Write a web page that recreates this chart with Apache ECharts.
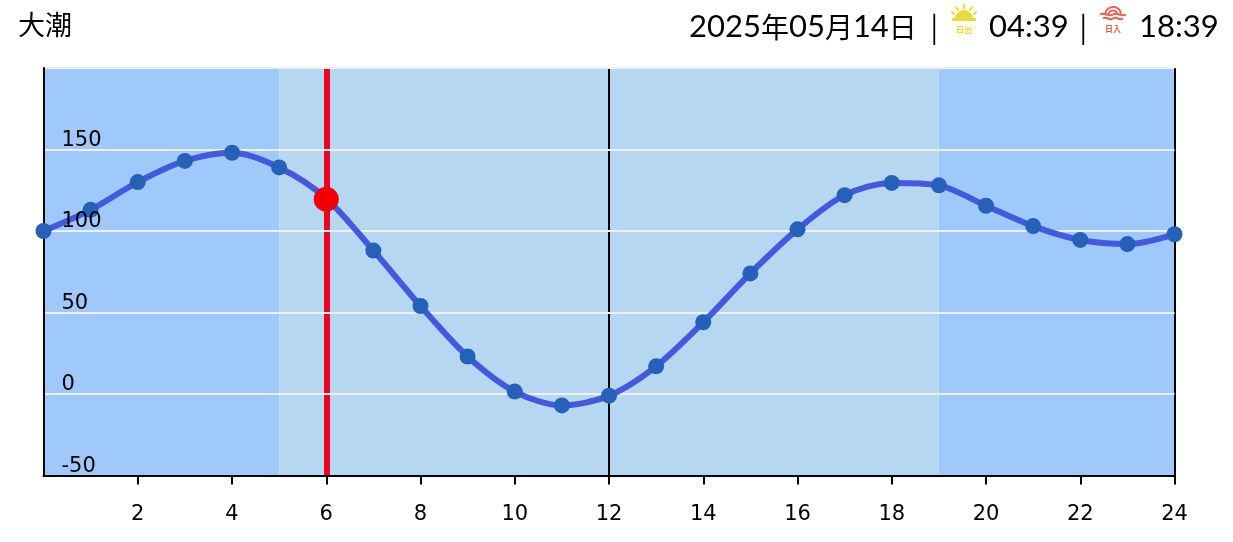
<!DOCTYPE html>
<html><head><meta charset="utf-8">
<style>html,body{margin:0;padding:0;background:#fff}#c{width:1233px;height:542px}</style>
<script src="https://cdn.jsdelivr.net/npm/echarts@6/dist/echarts.min.js"></script>
</head><body><div id="c"></div>
<script>
const hours=[0,1,2,3,4,5,6,7,8,9,10,11,12,13,14,15,16,17,18,19,20,21,22,23,24];
const tide=[100,113,130,143,148,139,120,88,54,23,1.5,-7,-1,17,44,74,101,122,129.5,128,115.5,103,94.5,92,98];
const xTicks=[2,4,6,8,10,12,14,16,18,20,22,24];
const nightRanges=[[0,5],[19,24]];
const dayRange=[5,19];
const currentHour=6;
const currentTide=119.5;
const blackLines=[12,24];
const titleText='大潮';
const dateText='2025年05月14日';
const sunriseText='04:39';
const sunsetText='18:39';
const hdr={fontFamily:'Lato,"Noto Sans CJK JP",sans-serif',fontSize:31,fill:'#000'};
function txt(x,y,t,o){return {type:'text',x:x,y:y,style:Object.assign({},hdr,{text:t,verticalAlign:'middle'},o||{})};}
const chart=echarts.init(document.getElementById('c'),null,{renderer:'canvas'});
const Y='#ecd93c',R='#e8644f';
const ray=(a,b,c,d)=>({type:'line',shape:{x1:a,y1:b,x2:c,y2:d},style:{stroke:Y,lineWidth:2,lineCap:'round'}});
const wave=(x1,x2,y)=>{const m=(x1+x2)/2;return [
 {type:'bezierCurve',shape:{x1:x1,y1:y,x2:m,y2:y,cpx1:x1+(m-x1)*.33,cpy1:y-3,cpx2:x1+(m-x1)*.66,cpy2:y+3},style:{stroke:R,lineWidth:2,fill:null}},
 {type:'bezierCurve',shape:{x1:m,y1:y,x2:x2,y2:y,cpx1:m+(x2-m)*.33,cpy1:y-3,cpx2:m+(x2-m)*.66,cpy2:y+3},style:{stroke:R,lineWidth:2,fill:null}}];};
const sun={type:'group',x:964,y:0,children:[
 {type:'sector',shape:{cx:0,cy:19,r:9,r0:0,startAngle:Math.PI,endAngle:2*Math.PI},style:{fill:Y}},
 {type:'line',shape:{x1:-12,y1:19.5,x2:12,y2:19.5},style:{stroke:Y,lineWidth:3}},
 ray(0,5,0,8),ray(-8,7,-6,10),ray(8,7,6,10),ray(-12,12,-10,14),ray(12,12,10,14),
 {type:'text',x:0,y:30,style:{text:'日出',fontSize:8,fontFamily:'"Noto Sans CJK JP"',fontWeight:'bold',fill:Y,align:'center',verticalAlign:'middle'}}
]};
const set={type:'group',x:1113,y:0,children:[
 {type:'arc',shape:{cx:0,cy:15,r:8,startAngle:Math.PI*1.05,endAngle:Math.PI*1.95},style:{stroke:R,lineWidth:2,fill:null}},
 {type:'arc',shape:{cx:0,cy:15,r:4.5,startAngle:Math.PI,endAngle:2*Math.PI},style:{stroke:R,lineWidth:2,fill:null}},
 ...wave(-13,13,14.5),...wave(-10,10,18.5),
 {type:'text',x:0,y:29,style:{text:'日入',fontSize:8,fontFamily:'"Noto Sans CJK JP"',fontWeight:'bold',fill:R,align:'center',verticalAlign:'middle'}}
]};
const richDate=dateText.replace(/(\d+)/g,'{d|$1}').replace(/([年月日])/g,'{c|$1}');
chart.setOption({
 animation:false,
 backgroundColor:'#fff',
 grid:{left:43.5,right:58.5,top:68,bottom:66.5,show:false},
 graphic:[
  txt(18,25,titleText,{fontSize:27,fontFamily:'"Noto Sans CJK JP"'}),
  txt(689,27,richDate,{rich:{d:{fontFamily:'Lato',fontSize:31,fill:'#000'},c:{fontFamily:'"Noto Sans CJK JP"',fontSize:28,fill:'#000'}}}),
  txt(930.5,26,'|',{fontSize:28,fontFamily:'"Noto Sans CJK JP"'}),
  sun,
  txt(989,27,sunriseText),
  txt(1079.5,26,'|',{fontSize:28,fontFamily:'"Noto Sans CJK JP"'}),
  set,
  txt(1139,27,sunsetText)
 ],
 xAxis:{type:'value',min:0,max:24,interval:2,
  axisLine:{show:true,onZero:false,lineStyle:{color:'#000',width:2}},
  axisTick:{show:true,length:9,customValues:xTicks,lineStyle:{color:'#000',width:2}},
  axisLabel:{color:'#000',fontFamily:'DejaVu Sans',fontSize:21,margin:29,showMinLabel:false},
  splitLine:{show:false}},
 yAxis:[{type:'value',min:-50,max:200,interval:50,
  axisLine:{show:true,onZero:false,lineStyle:{color:'#000',width:2}},
  axisTick:{show:false},axisLabel:{show:false},
  splitLine:{show:true,lineStyle:{color:'#f0f0f0',width:2}}},
  {type:'value',min:-50,max:200,interval:50,position:'left',z:6,
  axisLine:{show:false},axisTick:{show:false},splitLine:{show:false},
  axisLabel:{inside:true,color:'#000',fontFamily:'DejaVu Sans',fontSize:21,margin:18,verticalAlign:'bottom',lineHeight:18,
    formatter:v=>v===200?'':String(v)}}],
 series:[
  {type:'line',name:'bg',data:[],z:-1,silent:true,
   markArea:{silent:true,z:-2,itemStyle:{color:'#9fc8fb',opacity:1},
    data:nightRanges.map(r=>[{xAxis:r[0]},{xAxis:r[1]}]).concat([[{xAxis:dayRange[0],itemStyle:{color:'#b5d7f1'}},{xAxis:dayRange[1]}]])},
   markLine:{silent:true,symbol:'none',z:-1,label:{show:false},
    data:blackLines.map(v=>({xAxis:v,lineStyle:{color:'#000',width:2,type:'solid'}})).concat([{xAxis:currentHour,lineStyle:{color:'#f0001e',width:6,type:'solid'}}])}},
  {type:'line',name:'tide',z:3,smooth:0.3,data:hours.map((h,i)=>[h,tide[i]]),
   lineStyle:{color:'#4558e0',width:6},symbol:'circle',symbolSize:16,showSymbol:true,
   clip:false,itemStyle:{color:'#2561b8'},showAllSymbol:true},
  {type:'scatter',name:'now',z:4,data:[[currentHour,currentTide]],symbolSize:25,itemStyle:{color:'#f00000',opacity:1}}
 ]
});
</script></body></html>
